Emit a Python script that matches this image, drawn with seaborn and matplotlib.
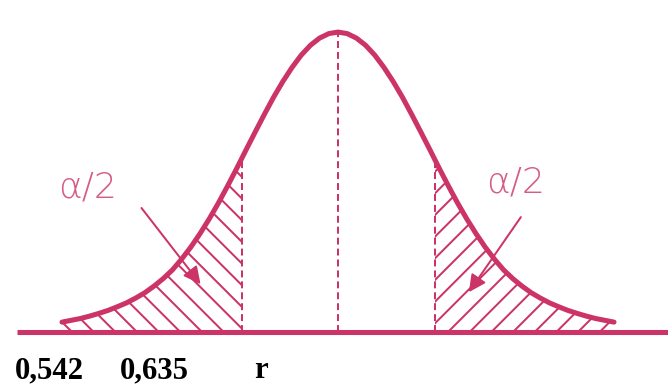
import numpy as np
import matplotlib
matplotlib.use("Agg")
import matplotlib.pyplot as plt
from matplotlib.patches import Rectangle
import seaborn as sns

# curva normal (z en desviaciones, altura relativa al pico)
z = [round(-3.0 + 0.1 * i, 1) for i in range(61)]
mitad = [0.033, 0.039, 0.045, 0.053, 0.062, 0.072, 0.084, 0.097, 0.113, 0.131,
         0.153, 0.178, 0.207, 0.243, 0.283, 0.328, 0.377, 0.430, 0.487, 0.546,
         0.607, 0.667, 0.726, 0.783, 0.835, 0.882, 0.923, 0.956, 0.980, 0.995]
altura = mitad + [1.000] + mitad[::-1]
z_crit_izq = -1.04
z_crit_der = 1.05
etiqueta_cola = "α/2"
textos_abajo = ["0,542", "0,635", "r"]

rosa = "#CC3366"

sns.set_theme(style="white")
plt.rcParams["hatch.linewidth"] = 1.1

dpi = 130
fig = plt.figure(figsize=(668 / dpi, 386 / dpi), dpi=dpi)
ax = fig.add_axes([0, 0, 1, 1])
ax.set_xlim(-3.674, 3.587)
ax.set_ylim(-0.18, 1.107)
ax.axis("off")

# colas rayadas
for lim, trama in [((-4, z_crit_izq), "\\\\"), ((z_crit_der, 4), "//")]:
    poly = ax.fill_between(z, 0, altura, facecolor="none", edgecolor=rosa,
                           linewidth=0, hatch=trama)
    clip = Rectangle((lim[0], -0.1), lim[1] - lim[0], 1.5, transform=ax.transData)
    poly.set_clip_path(clip)

# líneas discontinuas
for zc in [z_crit_izq, z_crit_der, 0.0]:
    tope = np.interp(zc, z, altura)
    ax.plot([zc, zc], [0, tope], color=rosa, lw=1.1, ls=(0, (3.5, 2)))

# curva y eje
sns.lineplot(x=z, y=altura, ax=ax, color=rosa, lw=2.8, sort=False)
ax.plot([-3.49, 3.587], [0, 0], color=rosa, lw=2.8, solid_capstyle="butt")

# etiquetas alfa/2 con flechas
ax.text(-2.72, 0.483, etiqueta_cola, color=rosa, alpha=0.8, fontsize=20,
        ha="center", va="center", family="DejaVu Sans", fontweight="light")
ax.text(1.93, 0.497, etiqueta_cola, color=rosa, alpha=0.8, fontsize=20,
        ha="center", va="center", family="DejaVu Sans", fontweight="light")
ax.annotate("", xy=(-1.47, 0.15), xytext=(-2.16, 0.423),
            arrowprops=dict(arrowstyle="-|>", color=rosa, lw=1.1, mutation_scale=20))
ax.annotate("", xy=(1.40, 0.123), xytext=(2.01, 0.393),
            arrowprops=dict(arrowstyle="-|>", color=rosa, lw=1.1, mutation_scale=20))

# texto inferior
for txt, xp in zip(textos_abajo, [15, 120, 254]):
    fig.text(xp / 668, 8 / 386, txt, fontsize=17, fontweight="bold",
             family="Liberation Serif", color="black", ha="left", va="baseline")

fig.savefig("out.png", dpi=dpi)
